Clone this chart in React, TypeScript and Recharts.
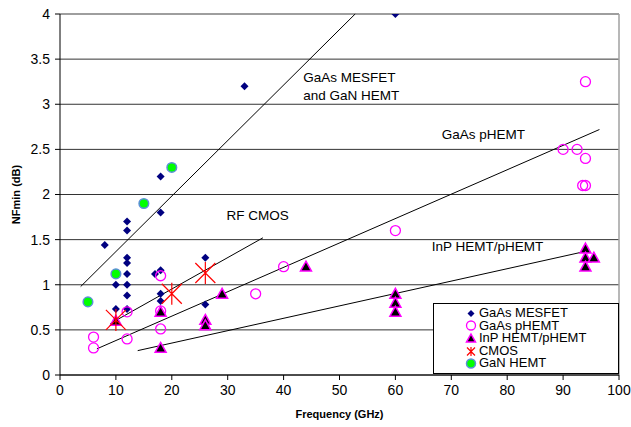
import {
  CartesianGrid,
  Label,
  Legend,
  ReferenceLine,
  Scatter,
  ScatterChart,
  XAxis,
  YAxis,
} from "recharts";

type Pt = { f: number; nf: number };
type Note = { f: number; nf: number; text: string };
type Trend = { from: Pt; to: Pt };

const xTicks = [0, 10, 20, 30, 40, 50, 60, 70, 80, 90, 100];
const yTicks = [0, 0.5, 1, 1.5, 2, 2.5, 3, 3.5, 4];

const gaasMesfet: Pt[] = [
  { f: 8, nf: 1.44 },
  { f: 10, nf: 1.0 },
  { f: 10, nf: 0.73 },
  { f: 12, nf: 1.7 },
  { f: 12, nf: 1.6 },
  { f: 12, nf: 1.3 },
  { f: 12, nf: 1.24 },
  { f: 12, nf: 1.12 },
  { f: 12, nf: 1.0 },
  { f: 12, nf: 0.88 },
  { f: 12, nf: 0.73 },
  { f: 17, nf: 1.12 },
  { f: 18, nf: 2.2 },
  { f: 18, nf: 1.8 },
  { f: 18, nf: 1.16 },
  { f: 18, nf: 0.9 },
  { f: 18, nf: 0.82 },
  { f: 26, nf: 1.3 },
  { f: 26, nf: 0.78 },
  { f: 33, nf: 3.2 },
  { f: 60, nf: 4.0 },
];

const gaasPhemt: Pt[] = [
  { f: 6, nf: 0.42 },
  { f: 6, nf: 0.3 },
  { f: 12, nf: 0.4 },
  { f: 12, nf: 0.7 },
  { f: 18, nf: 1.1 },
  { f: 18, nf: 0.71 },
  { f: 18, nf: 0.51 },
  { f: 35, nf: 0.9 },
  { f: 40, nf: 1.2 },
  { f: 60, nf: 1.6 },
  { f: 90, nf: 2.5 },
  { f: 92.5, nf: 2.5 },
  { f: 94, nf: 2.4 },
  { f: 93.5, nf: 2.1 },
  { f: 94, nf: 2.1 },
  { f: 94, nf: 3.25 },
];

const inpHemt: Pt[] = [
  { f: 10, nf: 0.6 },
  { f: 18, nf: 0.7 },
  { f: 18, nf: 0.3 },
  { f: 26, nf: 0.61 },
  { f: 26, nf: 0.55 },
  { f: 29, nf: 0.9 },
  { f: 44, nf: 1.2 },
  { f: 60, nf: 0.9 },
  { f: 60, nf: 0.8 },
  { f: 60, nf: 0.7 },
  { f: 94, nf: 1.4 },
  { f: 94, nf: 1.3 },
  { f: 95.5, nf: 1.3 },
  { f: 94, nf: 1.2 },
];

const cmos: Pt[] = [
  { f: 10, nf: 0.61 },
  { f: 20, nf: 0.9 },
  { f: 26, nf: 1.13 },
];

const ganHemt: Pt[] = [
  { f: 5, nf: 0.81 },
  { f: 10, nf: 1.12 },
  { f: 15, nf: 1.9 },
  { f: 20, nf: 2.3 },
];

const trends: Trend[] = [
  { from: { f: 3.7, nf: 0.98 }, to: { f: 52.8, nf: 4.0 } },
  { from: { f: 9, nf: 0.57 }, to: { f: 36.3, nf: 1.52 } },
  { from: { f: 6.6, nf: 0.29 }, to: { f: 96.5, nf: 2.72 } },
  { from: { f: 13.9, nf: 0.27 }, to: { f: 94, nf: 1.37 } },
];

const notes: Note[] = [
  { f: 43.5, nf: 3.3, text: "GaAs MESFET" },
  { f: 43.5, nf: 3.1, text: "and GaN HEMT" },
  { f: 68.3, nf: 2.66, text: "GaAs pHEMT" },
  { f: 29.8, nf: 1.77, text: "RF CMOS" },
  { f: 66.5, nf: 1.42, text: "InP HEMT/pHEMT" },
];

const legendNames = ["GaAs MESFET", "GaAs pHEMT", "InP HEMT/pHEMT", "CMOS", "GaN HEMT"];

const FONT = "'Liberation Sans', Arial, sans-serif";

function diamond(cx: number, cy: number, s: number) {
  return (
    <path
      d={`M${cx},${cy - s}L${cx + s},${cy}L${cx},${cy + s}L${cx - s},${cy}Z`}
      fill="#000080"
    />
  );
}

function ring(cx: number, cy: number, r: number) {
  return <circle cx={cx} cy={cy} r={r} fill="none" stroke="#ff00ff" strokeWidth={1.3} />;
}

function triangle(cx: number, cy: number, s: number) {
  return (
    <path
      d={`M${cx},${cy - s}L${cx + s},${cy + s * 0.8}L${cx - s},${cy + s * 0.8}Z`}
      fill="#000"
      stroke="#ff00ff"
      strokeWidth={1.5}
    />
  );
}

function asterisk(cx: number, cy: number, s: number) {
  return (
    <path
      d={`M${cx - s},${cy - s}L${cx + s},${cy + s}M${cx + s},${cy - s}L${cx - s},${cy + s}M${cx},${cy - s * 1.1}L${cx},${cy + s * 1.1}`}
      stroke="#ff0000"
      strokeWidth={1.2}
      fill="none"
    />
  );
}

function dot(cx: number, cy: number, r: number) {
  return <circle cx={cx} cy={cy} r={r} fill="#00ff00" stroke="#5b8fd8" strokeWidth={1.5} />;
}

const markers = [
  (cx: number, cy: number) => diamond(cx, cy, 4),
  (cx: number, cy: number) => ring(cx, cy, 5),
  (cx: number, cy: number) => triangle(cx, cy, 5.5),
  (cx: number, cy: number) => asterisk(cx, cy, 10),
  (cx: number, cy: number) => dot(cx, cy, 4.8),
];

const legendMarkers = [
  (cx: number, cy: number) => diamond(cx, cy, 3.5),
  (cx: number, cy: number) => ring(cx, cy, 4.5),
  (cx: number, cy: number) => triangle(cx, cy, 4.5),
  (cx: number, cy: number) => asterisk(cx, cy, 4),
  (cx: number, cy: number) => dot(cx, cy, 4.5),
];

function LegendBox() {
  return (
    <div
      style={{
        border: "1px solid #000",
        background: "#fff",
        width: 184,
        height: 66,
        paddingTop: 3,
        boxSizing: "content-box",
        fontFamily: FONT,
        fontSize: 13,
        color: "#000",
      }}
    >
      {legendNames.map((name, i) => (
        <div key={name} style={{ display: "flex", alignItems: "center", height: 12.6 }}>
          <svg width={14} height={13} style={{ marginLeft: 29.7, flex: "none" }}>
            {legendMarkers[i](7, 6.5)}
          </svg>
          <span style={{ marginLeft: 1.3, lineHeight: "12.6px", whiteSpace: "nowrap" }}>{name}</span>
        </div>
      ))}
    </div>
  );
}

function XTitle(props: any) {
  const { x, y, width } = props.viewBox;
  return (
    <text x={x + width / 2} y={y + 43} textAnchor="middle" fontWeight="bold" fontSize={11} fill="#000">
      Frequency (GHz)
    </text>
  );
}

function YTitle(props: any) {
  const { x, y, height } = props.viewBox;
  const cx = x + 6;
  const cy = y + height / 2;
  return (
    <text
      x={cx}
      y={cy}
      transform={`rotate(-90 ${cx} ${cy})`}
      textAnchor="middle"
      dominantBaseline="central"
      fontWeight="bold"
      fontSize={11}
      fill="#000"
    >
      NFmin (dB)
    </text>
  );
}

const series = [gaasMesfet, gaasPhemt, inpHemt, cmos, ganHemt];

export default function App() {
  return (
    <div style={{ position: "absolute", left: 0, top: 0, width: 631, height: 427, background: "#fff" }}>
      <ScatterChart
        width={631}
        height={427}
        margin={{ top: 14, right: 12, bottom: 22, left: 10 }}
        style={{ fontFamily: FONT }}
      >
        <CartesianGrid stroke="#333" vertical={false} />
        <XAxis
          type="number"
          dataKey="f"
          domain={[0, 100]}
          ticks={xTicks}
          height={30}
          tickSize={5}
          tickMargin={5}
          tick={{ fontSize: 14, fill: "#000" }}
          stroke="#000"
          allowDataOverflow
        >
          <Label content={<XTitle />} />
        </XAxis>
        <YAxis
          type="number"
          dataKey="nf"
          domain={[0, 4]}
          ticks={yTicks}
          width={50}
          tickSize={5}
          tickMargin={5}
          tick={{ fontSize: 14, fill: "#000" }}
          stroke="#000"
          allowDataOverflow
        >
          <Label content={<YTitle />} />
        </YAxis>
        <ReferenceLine y={4} stroke="#a0a0a0" strokeWidth={1.5} />
        <ReferenceLine x={100} stroke="#a0a0a0" strokeWidth={1.5} />
        {trends.map((t, i) => (
          <ReferenceLine
            key={i}
            segment={[
              { x: t.from.f, y: t.from.nf },
              { x: t.to.f, y: t.to.nf },
            ]}
            stroke="#000"
            strokeWidth={1}
            ifOverflow="visible"
          />
        ))}
        {series.map((data, i) => (
          <Scatter
            key={legendNames[i]}
            name={legendNames[i]}
            data={data}
            isAnimationActive={false}
            shape={(p: any) => markers[i](p.cx, p.cy)}
          />
        ))}
        <Scatter
          name="notes"
          data={notes}
          isAnimationActive={false}
          legendType="none"
          shape={(p: any) => (
            <text x={p.cx} y={p.cy} dominantBaseline="central" fontSize={13.5} fill="#000">
              {p.payload.text}
            </text>
          )}
        />
        <Legend
          layout="vertical"
          align="center"
          verticalAlign="middle"
          wrapperStyle={{ left: 433, top: 303, width: 186, height: 69 }}
          content={() => <LegendBox />}
        />
      </ScatterChart>
    </div>
  );
}
